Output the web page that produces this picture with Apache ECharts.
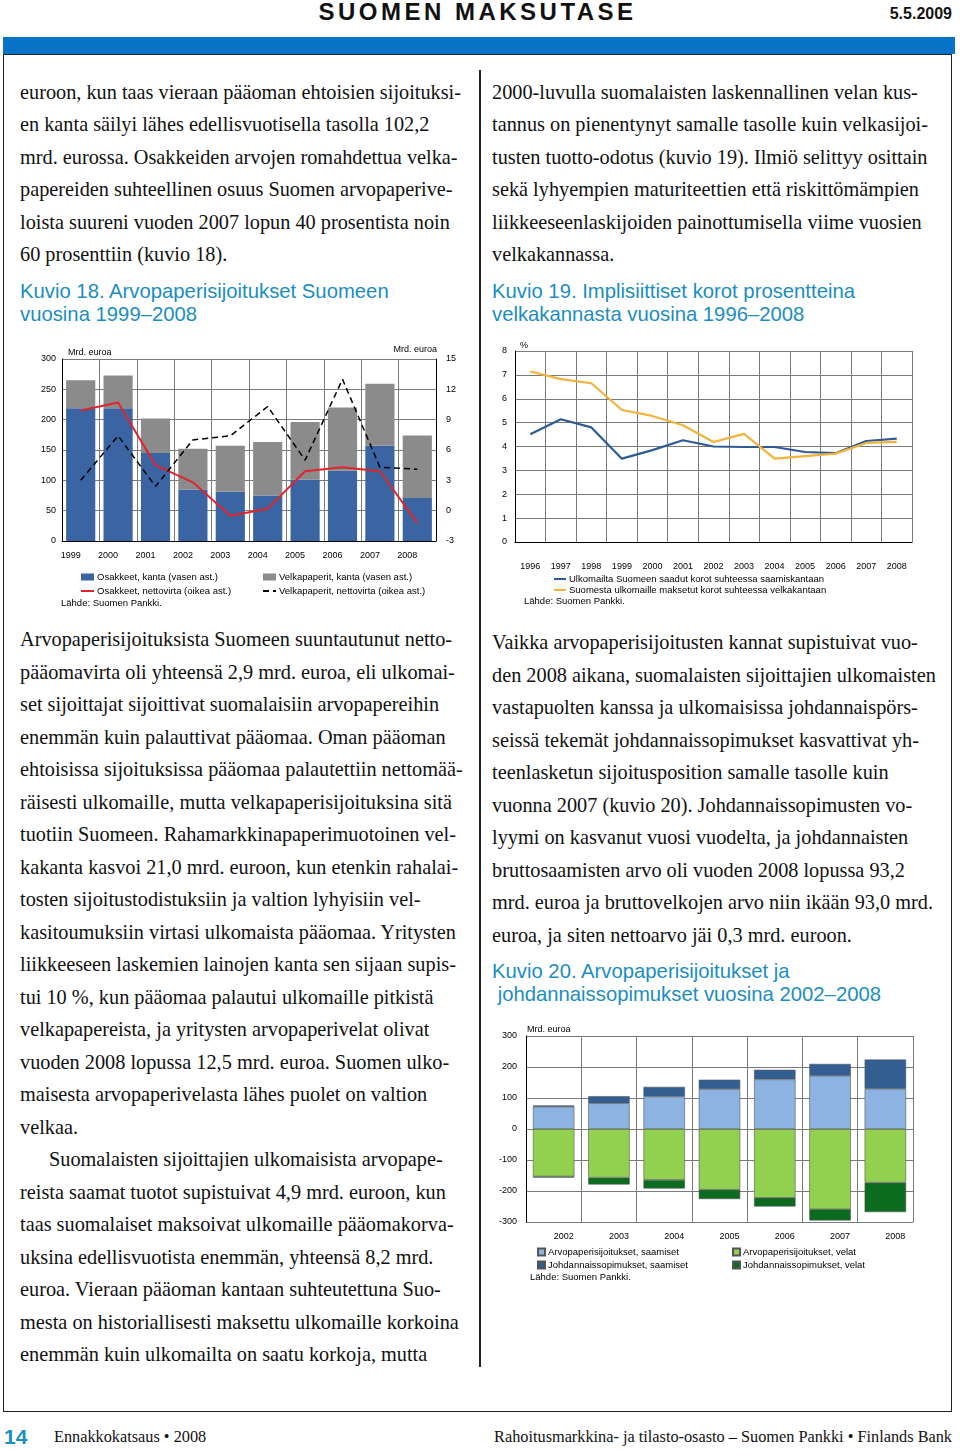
<!DOCTYPE html>
<html><head><meta charset="utf-8">
<script src="https://cdn.jsdelivr.net/npm/echarts@6/dist/echarts.min.js"></script>
<style>
html,body{margin:0;padding:0;background:#fff;}
body{width:960px;height:1450px;position:relative;overflow:hidden;}
.abs{position:absolute;white-space:pre;}
.t{font-family:'Liberation Serif','Times New Roman',serif;font-size:20.3px;line-height:24px;color:#111;}
.h{font-family:'Liberation Sans',Arial,sans-serif;font-size:20.3px;line-height:24px;color:#1b8dc0;}
#title{left:0;width:955px;top:-1px;text-align:center;font-family:'Liberation Sans',Arial,sans-serif;font-weight:bold;font-size:24px;line-height:26px;letter-spacing:3.5px;color:#111;}
#date{right:8px;top:5px;font-family:'Liberation Sans',Arial,sans-serif;font-weight:bold;font-size:16px;line-height:18px;color:#111;}
#bluebar{left:3px;top:37px;width:952px;height:17px;background:#0874c8;}
#box{left:3px;top:54px;width:949px;height:1358px;border:1.5px solid #222;box-sizing:border-box;}
#divider{left:479px;top:70px;width:1.5px;height:1297px;background:#222;}
#pg{left:4px;top:1425px;font-family:'Liberation Sans',Arial,sans-serif;font-weight:bold;font-size:21px;line-height:24px;color:#1b8dc0;}
#fl{left:54px;top:1427px;font-family:'Liberation Serif','Times New Roman',serif;font-size:16.3px;line-height:20px;color:#111;}
#fr{right:8px;top:1427px;font-family:'Liberation Serif','Times New Roman',serif;font-size:16.3px;line-height:20px;color:#111;}
.chart{position:absolute;}
</style></head><body>
<div id="title" class="abs">SUOMEN MAKSUTASE</div>
<div id="date" class="abs">5.5.2009</div>
<div id="bluebar" class="abs"></div>
<div id="box" class="abs"></div>
<div id="divider" class="abs"></div>
<div id="pg" class="abs">14</div>
<div id="fl" class="abs">Ennakkokatsaus • 2008</div>
<div id="fr" class="abs">Rahoitusmarkkina- ja tilasto-osasto – Suomen Pankki • Finlands Bank</div>
<div id="c18" class="chart" style="left:0;top:330px;width:480px;height:290px;"></div>
<div id="c19" class="chart" style="left:480px;top:330px;width:480px;height:290px;"></div>
<div id="c20" class="chart" style="left:480px;top:1010px;width:480px;height:280px;"></div>
<script>
// ---------- text ----------
const leftTopText = [
 'euroon, kun taas vieraan pääoman ehtoisien sijoituksi-',
 'en kanta säilyi lähes edellisvuotisella tasolla 102,2',
 'mrd. eurossa. Osakkeiden arvojen romahdettua velka-',
 'papereiden suhteellinen osuus Suomen arvopaperive-',
 'loista suureni vuoden 2007 lopun 40 prosentista noin',
 '60 prosenttiin (kuvio 18).'
];
const rightTopText = [
 '2000-luvulla suomalaisten laskennallinen velan kus-',
 'tannus on pienentynyt samalle tasolle kuin velkasijoi-',
 'tusten tuotto-odotus (kuvio 19). Ilmiö selittyy osittain',
 'sekä lyhyempien maturiteettien että riskittömämpien',
 'liikkeeseenlaskijoiden painottumisella viime vuosien',
 'velkakannassa.'
];
const heading18 = ['Kuvio 18. Arvopaperisijoitukset Suomeen', 'vuosina 1999–2008'];
const heading19 = ['Kuvio 19. Implisiittiset korot prosentteina', 'velkakannasta vuosina 1996–2008'];
const heading20 = ['Kuvio 20. Arvopaperisijoitukset ja', ' johdannaissopimukset vuosina 2002–2008'];
const leftBottomText = [
 'Arvopaperisijoituksista Suomeen suuntautunut netto-',
 'pääomavirta oli yhteensä 2,9 mrd. euroa, eli ulkomai-',
 'set sijoittajat sijoittivat suomalaisiin arvopapereihin',
 'enemmän kuin palauttivat pääomaa. Oman pääoman',
 'ehtoisissa sijoituksissa pääomaa palautettiin nettomää-',
 'räisesti ulkomaille, mutta velkapaperisijoituksina sitä',
 'tuotiin Suomeen. Rahamarkkinapaperimuotoinen vel-',
 'kakanta kasvoi 21,0 mrd. euroon, kun etenkin rahalai-',
 'tosten sijoitustodistuksiin ja valtion lyhyisiin vel-',
 'kasitoumuksiin virtasi ulkomaista pääomaa. Yritysten',
 'liikkeeseen laskemien lainojen kanta sen sijaan supis-',
 'tui 10 %, kun pääomaa palautui ulkomaille pitkistä',
 'velkapapereista, ja yritysten arvopaperivelat olivat',
 'vuoden 2008 lopussa 12,5 mrd. euroa. Suomen ulko-',
 'maisesta arvopaperivelasta lähes puolet on valtion',
 'velkaa.',
 'Suomalaisten sijoittajien ulkomaisista arvopape-',
 'reista saamat tuotot supistuivat 4,9 mrd. euroon, kun',
 'taas suomalaiset maksoivat ulkomaille pääomakorva-',
 'uksina edellisvuotista enemmän, yhteensä 8,2 mrd.',
 'euroa. Vieraan pääoman kantaan suhteutettuna Suo-',
 'mesta on historiallisesti maksettu ulkomaille korkoina',
 'enemmän kuin ulkomailta on saatu korkoja, mutta'
];
const rightBottomText = [
 'Vaikka arvopaperisijoitusten kannat supistuivat vuo-',
 'den 2008 aikana, suomalaisten sijoittajien ulkomaisten',
 'vastapuolten kanssa ja ulkomaisissa johdannaispörs-',
 'seissä tekemät johdannaissopimukset kasvattivat yh-',
 'teenlasketun sijoitusposition samalle tasolle kuin',
 'vuonna 2007 (kuvio 20). Johdannaissopimusten vo-',
 'lyymi on kasvanut vuosi vuodelta, ja johdannaisten',
 'bruttosaamisten arvo oli vuoden 2008 lopussa 93,2',
 'mrd. euroa ja bruttovelkojen arvo niin ikään 93,0 mrd.',
 'euroa, ja siten nettoarvo jäi 0,3 mrd. euroon.'
];
function addLines(lines, x, y0, step, cls, indentIdx, indent){
  lines.forEach((s,i)=>{
    const d=document.createElement('div');
    d.className='abs '+cls;
    d.style.left=(x+(i===indentIdx?indent:0))+'px';
    d.style.top=(y0+i*step-12)+'px';
    d.textContent=s;
    document.body.appendChild(d);
  });
}
addLines(leftTopText,20,91.5,32.5,'t');
addLines(rightTopText,492,91.5,32.5,'t');
addLines(heading18,20,291,23,'h');
addLines(heading19,492,291,23,'h');
addLines(leftBottomText,20,639,32.5,'t',16,29);
addLines(rightBottomText,492,642,32.5,'t');
addLines(heading20,492,971,23,'h');

// ---------- chart data ----------
const years18 = ['1999','2000','2001','2002','2003','2004','2005','2006','2007','2008'];
const osakkeetKanta = [219,219,145,85,81,75,101,116,157,71];
const velkapaperitKanta = [46,54,57,67,76,88,95,104,102,103];
const osakkeetVirta = [9.9,10.7,4.5,2.8,-0.5,0.2,3.9,4.3,3.9,-1.2];
const velkapaperitVirta = [3.0,7.4,2.4,7.0,7.4,10.3,5.0,13.0,4.3,4.1];
const names18 = ['Osakkeet, kanta (vasen ast.)','Velkapaperit, kanta (vasen ast.)','Osakkeet, nettovirta (oikea ast.)','Velkapaperit, nettovirta (oikea ast.)'];

const years19 = ['1996','1997','1998','1999','2000','2001','2002','2003','2004','2005','2006','2007','2008'];
const korotSaadut = [4.51,5.14,4.80,3.49,3.85,4.26,4.00,3.98,3.98,3.77,3.72,4.23,4.33];
const korotMaksetut = [7.14,6.82,6.65,5.53,5.28,4.89,4.19,4.53,3.49,3.60,3.70,4.15,4.19];
const names19 = ['Ulkomailta Suomeen saadut korot suhteessa saamiskantaan','Suomesta ulkomaille maksetut korot suhteessa velkakantaan'];

const years20 = ['2002','2003','2004','2005','2006','2007','2008'];
const arvoSaamiset = [72,83,105,129,160,172,130];
const johdSaamiset = [4,23,31,30,31,38,94];
const arvoVelat = [-153,-157,-164,-196,-222,-259,-173];
const johdVelat = [-4,-22,-28,-30,-28,-36,-95];
const names20 = ['Arvopaperisijoitukset, saamiset','Arvopaperisijoitukset, velat','Johdannaissopimukset, saamiset','Johdannaissopimukset, velat'];

const FONT = 'Liberation Sans, Arial, sans-serif';
const lbl = {fontSize:9,color:'#000',fontFamily:FONT};
const legTxt = {fontSize:9.5,color:'#000',fontFamily:FONT,padding:[0,0,0,-2]};
const gridCol = '#7a7a7a';
const noSym = {color:'rgba(0,0,0,0)',borderColor:'rgba(0,0,0,0)',borderWidth:0};

// ---------- Kuvio 18 ----------
const c18 = echarts.init(document.getElementById('c18'),null,{renderer:'canvas'});
c18.setOption({
  animation:false,
  textStyle:{fontFamily:FONT},
  grid:{left:62,top:29,width:374,height:182},
  xAxis:{type:'category',data:years18,
    axisLine:{lineStyle:{color:'#000',width:1}},axisTick:{show:false},
    axisLabel:Object.assign({margin:10,padding:[0,20,0,0]},lbl),
    splitLine:{show:true,lineStyle:{color:gridCol,width:1}}},
  yAxis:[
    {type:'value',min:0,max:300,interval:50,
     axisLine:{show:true,lineStyle:{color:'#000'}},axisTick:{show:false},
     axisLabel:Object.assign({margin:6},lbl),
     splitLine:{lineStyle:{color:gridCol,width:1}}},
    {type:'value',min:-3,max:15,interval:3,position:'right',
     axisLine:{show:true,lineStyle:{color:'#000'}},axisTick:{show:false},
     axisLabel:Object.assign({margin:10},lbl),splitLine:{show:false}}
  ],
  legend:[
    {orient:'vertical',left:80,top:242,padding:0,itemWidth:13,itemHeight:7,itemGap:4,
     textStyle:legTxt,
     data:[{name:names18[0],icon:'rect'},{name:names18[2],itemStyle:noSym}]},
    {orient:'vertical',left:262,top:242,padding:0,itemWidth:13,itemHeight:7,itemGap:4,
     textStyle:legTxt,
     data:[{name:names18[1],icon:'rect'},{name:names18[3],itemStyle:noSym}]}
  ],
  graphic:[
    {type:'text',x:68,y:23,style:{text:'Mrd. euroa',fill:'#000',font:'9px '+FONT,verticalAlign:'middle'}},
    {type:'text',x:437,y:20,style:{text:'Mrd. euroa',fill:'#000',font:'9px '+FONT,align:'right',verticalAlign:'middle'}},
    {type:'text',x:61,y:273,style:{text:'Lähde: Suomen Pankki.',fill:'#000',font:'9.5px '+FONT,verticalAlign:'middle'}}
  ],
  series:[
    {name:names18[0],type:'bar',stack:'s',data:osakkeetKanta,barCategoryGap:'22%',itemStyle:{color:'#3b65a2'}},
    {name:names18[1],type:'bar',stack:'s',data:velkapaperitKanta,itemStyle:{color:'#8b8b8b'}},
    {name:names18[2],type:'line',yAxisIndex:1,data:osakkeetVirta,symbol:'none',lineStyle:{color:'#e0242a',width:2},itemStyle:{color:'#e0242a'}},
    {name:names18[3],type:'line',yAxisIndex:1,data:velkapaperitVirta,symbol:'none',lineStyle:{color:'#000',width:1.5,type:[6,4]},itemStyle:{color:'#000'}}
  ]
});

// ---------- Kuvio 19 ----------
const c19 = echarts.init(document.getElementById('c19'),null,{renderer:'canvas'});
c19.setOption({
  animation:false,
  textStyle:{fontFamily:FONT},
  grid:{left:35,top:21,width:397,height:191},
  xAxis:{type:'category',data:years19,
    axisLine:{lineStyle:{color:'#000'}},axisTick:{show:false},
    axisLabel:Object.assign({margin:20},lbl),
    splitLine:{show:true,lineStyle:{color:gridCol}}},
  yAxis:{type:'value',min:0,max:8,interval:1,
    axisLine:{show:true,lineStyle:{color:'#000'}},axisTick:{show:false},
    axisLabel:Object.assign({margin:8},lbl),
    splitLine:{lineStyle:{color:gridCol}}},
  legend:{orient:'vertical',left:73,top:244,padding:0,itemWidth:12,itemHeight:7,itemGap:1,
    textStyle:legTxt,
    data:[{name:names19[0],itemStyle:noSym},{name:names19[1],itemStyle:noSym}]},
  graphic:[
    {type:'text',x:40,y:16,style:{text:'%',fill:'#000',font:'9px '+FONT,verticalAlign:'middle'}},
    {type:'text',x:44,y:271,style:{text:'Lähde: Suomen Pankki.',fill:'#000',font:'9.5px '+FONT,verticalAlign:'middle'}}
  ],
  series:[
    {name:names19[0],type:'line',data:korotSaadut,symbol:'none',lineStyle:{color:'#2f5b95',width:2.2},itemStyle:{color:'#2f5b95'}},
    {name:names19[1],type:'line',data:korotMaksetut,symbol:'none',lineStyle:{color:'#f2b33a',width:2.2},itemStyle:{color:'#f2b33a'}}
  ]
});

// ---------- Kuvio 20 ----------
const c20 = echarts.init(document.getElementById('c20'),null,{renderer:'canvas'});
c20.setOption({
  animation:false,
  textStyle:{fontFamily:FONT},
  grid:{left:46,top:26,width:387,height:186},
  xAxis:{type:'category',data:years20,
    axisLine:{onZero:false,lineStyle:{color:gridCol}},axisTick:{show:false},
    axisLabel:Object.assign({margin:10,padding:[0,0,0,20]},lbl),
    splitLine:{show:true,lineStyle:{color:gridCol}}},
  yAxis:{type:'value',min:-300,max:300,interval:100,
    axisLine:{show:true,lineStyle:{color:'#000'}},axisTick:{show:false},
    axisLabel:Object.assign({margin:9},lbl),
    splitLine:{lineStyle:{color:gridCol}}},
  legend:[
    {orient:'vertical',left:57,top:237,padding:0,itemWidth:7,itemHeight:7,itemGap:3,icon:'rect',
     textStyle:legTxt,data:[names20[0],names20[2]]},
    {orient:'vertical',left:252,top:237,padding:0,itemWidth:7,itemHeight:7,itemGap:3,icon:'rect',
     textStyle:legTxt,data:[names20[1],names20[3]]}
  ],
  graphic:[
    {type:'text',x:47,y:20,style:{text:'Mrd. euroa',fill:'#000',font:'9px '+FONT,verticalAlign:'middle'}},
    {type:'text',x:50,y:267,style:{text:'Lähde: Suomen Pankki.',fill:'#000',font:'9.5px '+FONT,verticalAlign:'middle'}}
  ],
  series:[
    {name:names20[0],type:'bar',stack:'t',data:arvoSaamiset,barCategoryGap:'25%',itemStyle:{color:'#8db3e2',borderColor:'#555',borderWidth:0.6}},
    {name:names20[2],type:'bar',stack:'t',data:johdSaamiset,itemStyle:{color:'#335e92',borderColor:'#555',borderWidth:0.6}},
    {name:names20[1],type:'bar',stack:'t',data:arvoVelat,itemStyle:{color:'#92d050',borderColor:'#555',borderWidth:0.6}},
    {name:names20[3],type:'bar',stack:'t',data:johdVelat,itemStyle:{color:'#0b6b1f',borderColor:'#555',borderWidth:0.6}}
  ]
});
</script>
</body></html>
